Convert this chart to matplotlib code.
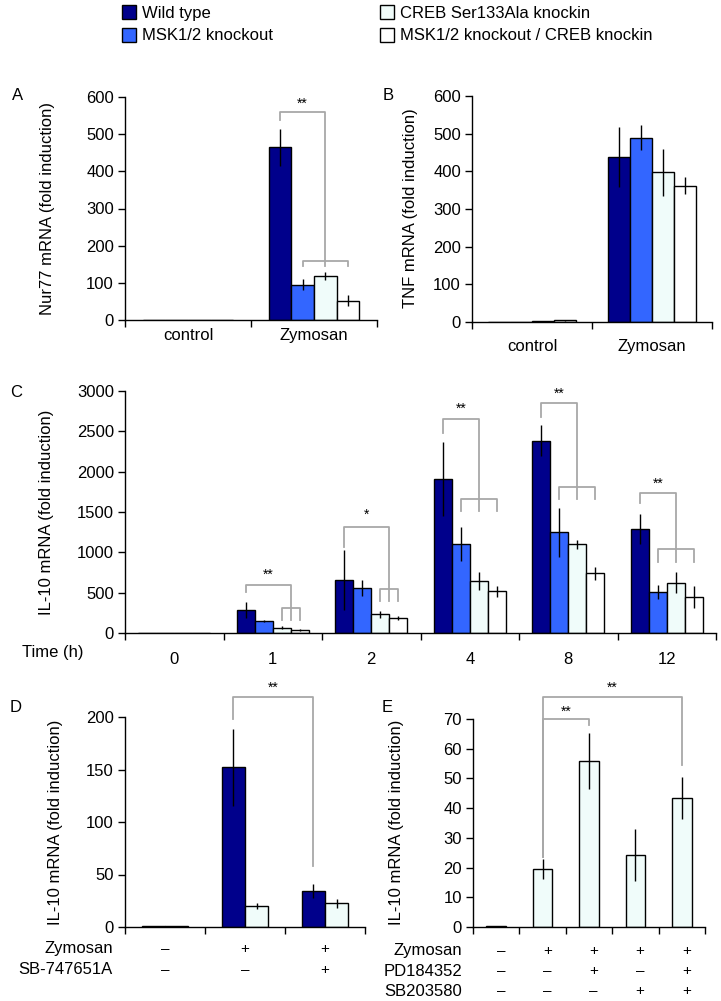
import matplotlib
matplotlib.use("Agg")
import matplotlib.pyplot as plt
from matplotlib.patches import Patch
from matplotlib import transforms
import numpy as np

plt.rcParams['font.family'] = ['Liberation Sans', 'DejaVu Sans']
plt.rcParams['font.size'] = 12

# ---- data ----
groups = ['Wild type', 'MSK1/2 knockout', 'CREB Ser133Ala knockin',
          'MSK1/2 knockout / CREB knockin']
colors = ['#00008B', '#3366FF', '#F0FCFA', '#FFFFFF']

ab_cats = ['control', 'Zymosan']
nur77 = [[1, 465], [1, 95], [1, 118], [1, 52]]
nur77_err = [[0, 50], [0, 14], [0, 10], [0, 15]]
tnf = [[0.5, 438], [0.8, 489], [1.5, 397], [4, 362]]
tnf_err = [[0, 80], [0, 33], [0, 62], [2, 22]]

times = ['0', '1', '2', '4', '8', '12']
il10 = [[5, 285, 657, 1909, 2384, 1289],
        [5, 145, 562, 1099, 1248, 508],
        [5, 66, 231, 645, 1099, 624],
        [5, 38, 182, 516, 740, 442]]
il10_err = [[0, 98, 370, 455, 195, 185],
            [0, 10, 100, 210, 300, 87],
            [0, 15, 40, 115, 60, 132],
            [0, 10, 25, 65, 80, 135]]

d_zymosan = ['–', '+', '+']
d_sb747 = ['–', '–', '+']
d_wt = [1, 152, 34]
d_wt_err = [0, 37, 6.5]
d_creb = [0.5, 20, 22.5]
d_creb_err = [0, 3, 4.5]

e_zymosan = ['–', '+', '+', '+', '+']
e_pd = ['–', '–', '+', '–', '+']
e_sb = ['–', '–', '–', '+', '+']
e_vals = [0.4, 19.5, 56, 24.2, 43.3]
e_err = [0, 3.4, 9.4, 8.8, 7.1]

GREY = '#A8A8A8'
W, H = 721, 1001
fig = plt.figure(figsize=(W / 100, H / 100), dpi=100)


def add_ax(l, r, t, b):
    return fig.add_axes([l / W, 1 - b / H, (r - l) / W, (b - t) / H])


def style(ax, ncat, ylim, yticks, labels=None, pad=4):
    ax.set_xlim(-0.5, ncat - 0.5)
    ax.set_ylim(*ylim)
    ax.set_yticks(yticks)
    for s in ['top', 'right']:
        ax.spines[s].set_visible(False)
    for s in ['left', 'bottom']:
        ax.spines[s].set_linewidth(1.0)
    ax.set_xticks(np.arange(ncat + 1) - 0.5)
    ax.set_xticklabels([])
    ax.tick_params(axis='x', which='major', direction='out', length=5, width=1)
    ax.tick_params(axis='y', direction='out', length=5, width=1, labelsize=12, pad=3)
    if labels is not None:
        ax.set_xticks(np.arange(ncat), minor=True)
        ax.set_xticklabels(labels, minor=True)
        ax.tick_params(axis='x', which='minor', length=0, labelsize=12, pad=pad)


def grouped(ax, vals, errs, cols, w):
    n = len(vals)
    pos = []
    for j in range(n):
        x = np.arange(len(vals[j])) + (j - (n - 1) / 2) * w
        ax.bar(x, vals[j], w, color=cols[j], edgecolor='black', linewidth=1, zorder=2)
        ax.errorbar(x, vals[j], yerr=errs[j], fmt='none', ecolor='black',
                    elinewidth=1, capsize=0, zorder=3)
        pos.append(x)
    return pos


def line(ax, xs, ys):
    ax.plot(xs, ys, color=GREY, lw=1.3, clip_on=False, zorder=4)


def star(ax, x, y, s='**'):
    ax.text(x, y, s, ha='center', va='center', fontsize=10, clip_on=False)


# ---- A ----
axA = add_ax(125, 377, 97, 320)
pA = grouped(axA, nur77, nur77_err, colors, 0.18)
style(axA, 2, (0, 600), range(0, 601, 100), ab_cats, pad=6)
line(axA, [pA[0][1], pA[0][1], pA[2][1], pA[2][1]], [539, 560, 560, 144])
line(axA, [pA[1][1], pA[1][1], pA[3][1], pA[3][1]], [144, 160, 160, 144])
star(axA, (pA[0][1] + pA[2][1]) / 2, 582)
fig.text(48 / W, 1 - 208 / H, 'Nur77 mRNA (fold induction)', rotation=90,
         ha='center', va='center', fontsize=12)
fig.text(12 / W, 1 - 95 / H, 'A', fontsize=12, ha='left', va='center')

# ---- B ----
axB = add_ax(472, 712, 96, 322)
grouped(axB, tnf, tnf_err, colors, 0.185)
style(axB, 2, (0, 600), range(0, 601, 100), ab_cats, pad=12)
fig.text(410 / W, 1 - 208 / H, 'TNF mRNA (fold induction)', rotation=90,
         ha='center', va='center', fontsize=12)
fig.text(383 / W, 1 - 95 / H, 'B', fontsize=12, ha='left', va='center')

# ---- C ----
axC = add_ax(125, 716, 391, 633)
pC = grouped(axC, il10, il10_err, colors, 0.183)
style(axC, 6, (0, 3000), range(0, 3001, 500), times, pad=14)
# time 1 and 2: WT vs CREB-KI and double
for i, (yt, yl, ylow, yleg, ys, s) in {1: (601, 514, 316, 161, 727, '**'),
                                       2: (1318, 1070, 541, 397, 1463, '*')}.items():
    xm = (pC[2][i] + pC[3][i]) / 2
    line(axC, [pC[0][i], pC[0][i], xm, xm], [yl, yt, yt, yleg])
    line(axC, [pC[2][i], pC[2][i], pC[3][i], pC[3][i]], [yleg, ylow, ylow, yleg])
    star(axC, (pC[0][i] + xm) / 2, ys, s)
# time 4, 8, 12: WT vs MSK, CREB-KI and double
for i, (yt, yl, ylow, yleg, ys) in {3: (2649, 2475, 1657, 1512, 2785),
                                    4: (2847, 2682, 1806, 1661, 2971),
                                    5: (1732, 1608, 1038, 884, 1856)}.items():
    line(axC, [pC[0][i], pC[0][i], pC[2][i], pC[2][i]], [yl, yt, yt, yleg])
    line(axC, [pC[1][i], pC[1][i], pC[3][i], pC[3][i]], [yleg, ylow, ylow, yleg])
    star(axC, (pC[0][i] + pC[2][i]) / 2, ys)
fig.text(47 / W, 1 - 512 / H, 'IL-10 mRNA (fold induction)', rotation=90,
         ha='center', va='center', fontsize=12)
fig.text(10 / W, 1 - 393 / H, 'C', fontsize=12, ha='left', va='center')
fig.text(22 / W, 1 - 653 / H, 'Time (h)', fontsize=12, ha='left', va='center')

# ---- D ----
axD = add_ax(125, 365, 717, 927)
pD = grouped(axD, [d_wt, d_creb], [d_wt_err, d_creb_err], [colors[0], colors[2]], 0.29)
style(axD, 3, (0, 200), range(0, 201, 50))
line(axD, [pD[0][1], pD[0][1], pD[0][2], pD[0][2]], [198, 218.7, 218.7, 57.8])
star(axD, (pD[0][1] + pD[0][2]) / 2, 228)
tD = transforms.blended_transform_factory(axD.transData, fig.transFigure)
for row, (name, signs) in enumerate([('Zymosan', d_zymosan), ('SB-747651A', d_sb747)]):
    yy = 1 - (949 + 21 * row) / H
    fig.text(113 / W, yy, name, ha='right', va='center', fontsize=12)
    for k, s in enumerate(signs):
        axD.text(k, yy, s, transform=tD, ha='center', va='center', fontsize=11)
fig.text(56 / W, 1 - 822 / H, 'IL-10 mRNA (fold induction)', rotation=90,
         ha='center', va='center', fontsize=12)
fig.text(10 / W, 1 - 708 / H, 'D', fontsize=12, ha='left', va='center')

# ---- E ----
axE = add_ax(473, 705, 719, 927)
xE = np.arange(len(e_vals))
axE.bar(xE, e_vals, 0.42, color=colors[2], edgecolor='black', linewidth=1, zorder=2)
axE.errorbar(xE, e_vals, yerr=e_err, fmt='none', ecolor='black', elinewidth=1,
             capsize=0, zorder=3)
style(axE, 5, (0, 70), range(0, 71, 10))
line(axE, [1, 1, 2, 2], [23.7, 70, 70, 68])
line(axE, [1, 1, 4, 4], [23.7, 77.3, 77.3, 54.5])
star(axE, 1.5, 72.4)
star(axE, 2.5, 80.6)
tE = transforms.blended_transform_factory(axE.transData, fig.transFigure)
for row, (name, signs) in enumerate([('Zymosan', e_zymosan), ('PD184352', e_pd),
                                     ('SB203580', e_sb)]):
    yy = 1 - (951 + 20 * row) / H
    fig.text(462 / W, yy, name, ha='right', va='center', fontsize=12)
    for k, s in enumerate(signs):
        axE.text(k + 0.1, yy, s, transform=tE, ha='center', va='center', fontsize=11)
fig.text(397 / W, 1 - 822 / H, 'IL-10 mRNA (fold induction)', rotation=90,
         ha='center', va='center', fontsize=12)
fig.text(382 / W, 1 - 707 / H, 'E', fontsize=12, ha='left', va='center')

# ---- legend ----
handles = [Patch(facecolor=c, edgecolor='black', linewidth=1) for c in colors]
fig.legend(handles, groups, ncol=2, loc='upper left', bbox_to_anchor=(122 / W, 1 - 5 / H),
           frameon=False, fontsize=12, handlelength=0.85, handleheight=0.9,
           handletextpad=0.35, labelspacing=0.43, columnspacing=6.4,
           borderpad=0, borderaxespad=0)

fig.savefig('out.png', dpi=100)
